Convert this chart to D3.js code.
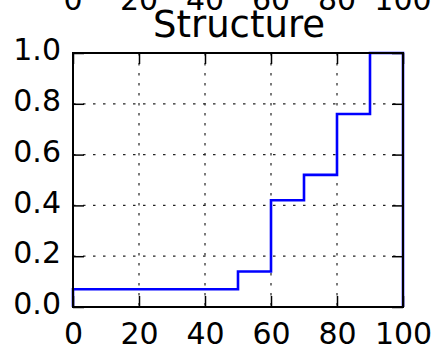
<!DOCTYPE html>
<html><head><meta charset="utf-8">
<script src="https://cdn.jsdelivr.net/npm/d3@7"></script>
<style>body{margin:0;background:#fff}svg{display:block}text{font-family:"DejaVu Sans",sans-serif;fill:#000}</style>
</head><body><svg id="c" width="434" height="356"></svg>
<script>
const title = "Structure";
const binEdges = [0, 50, 60, 70, 80, 90, 100];
const cumValues = [0.07, 0.14, 0.42, 0.52, 0.76, 1.0];
const xTicks = [0, 20, 40, 60, 80, 100];
const yTicks = [0.0, 0.2, 0.4, 0.6, 0.8, 1.0];

const svg = d3.select("#c");
const L = 73, R = 403, T = 53, B = 307;
const x = d3.scaleLinear().domain([0, 100]).range([L, R]);
const y = d3.scaleLinear().domain([0, 1]).range([B, T]);

// partial tick labels from subplot above
svg.append("g").selectAll("text").data(xTicks).join("text")
  .attr("x", d => x(d)).attr("y", 10).attr("text-anchor", "middle")
  .style("font-size", "30px").text(d => d);

// grid
const grid = svg.append("g").attr("stroke", "#222").attr("stroke-width", 1.2).attr("stroke-dasharray", "2.5,7.5");
grid.selectAll(".gx").data(xTicks.slice(1, -1)).join("line")
  .attr("x1", d => x(d)).attr("x2", d => x(d)).attr("y1", T).attr("y2", B);
grid.selectAll(".gy").data(yTicks.slice(1, -1)).join("line")
  .attr("y1", d => y(d)).attr("y2", d => y(d)).attr("x1", L).attr("x2", R);

// step line
const pts = [[binEdges[0], 0]];
cumValues.forEach((v, i) => { pts.push([binEdges[i], v]); pts.push([binEdges[i + 1], v]); });
pts.push([binEdges[binEdges.length - 1], 0]);
svg.append("path").attr("d", d3.line().x(d => x(d[0])).y(d => y(d[1]))(pts))
  .attr("fill", "none").attr("stroke", "#0000ff").attr("stroke-width", 2.6);

// axes (inward ticks on all sides)
const tl = 11;
svg.append("g").attr("transform", `translate(0,${B})`)
  .call(d3.axisBottom(x).tickValues(xTicks).tickSizeInner(-tl).tickSizeOuter(0).tickPadding(16).tickFormat(d3.format("d")));
svg.append("g").attr("transform", `translate(0,${T})`)
  .call(d3.axisTop(x).tickValues(xTicks).tickSizeInner(-tl).tickSizeOuter(0).tickFormat(""));
const ya = svg.append("g").attr("transform", `translate(${L},0)`)
  .call(d3.axisLeft(y).tickValues(yTicks).tickSizeInner(-tl).tickSizeOuter(0).tickPadding(12).tickFormat(d3.format(".1f")));
ya.selectAll(".tick text").attr("dy", "0.22em");
svg.append("g").attr("transform", `translate(${R},0)`)
  .call(d3.axisRight(y).tickValues(yTicks).tickSizeInner(-tl).tickSizeOuter(0).tickFormat(""));
svg.selectAll(".domain").remove();
svg.selectAll(".tick line").attr("stroke", "#000").attr("stroke-width", 1.5);
svg.selectAll(".tick text").style("font-size", "30px").attr("font-family", null).attr("fill", "#000");

svg.append("rect").attr("x", L).attr("y", T).attr("width", R - L).attr("height", B - T)
  .attr("fill", "none").attr("stroke", "#000").attr("stroke-width", 2);

svg.append("text").attr("x", (L + R) / 2 + 1).attr("y", 37).attr("text-anchor", "middle")
  .style("font-size", "37px").text(title);
</script></body></html>
